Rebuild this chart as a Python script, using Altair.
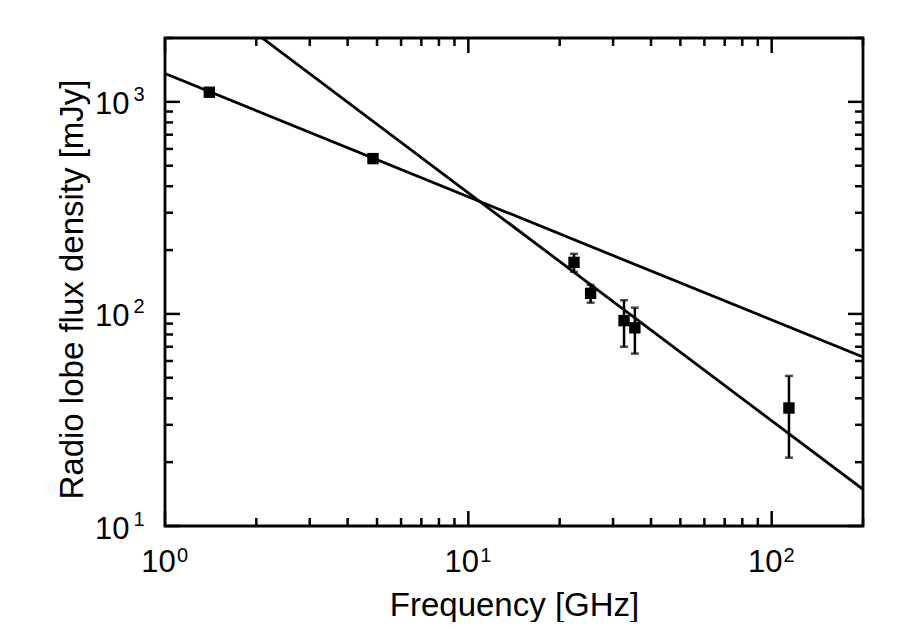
import altair as alt
import pandas as pd

# ---- data ----
freq = [1.4, 4.85, 22.3, 25.3, 32.6, 35.4, 114.0]      # GHz
flux = [1110, 540, 175, 125, 93, 86, 36]               # mJy
err = [0, 0, 17, 12, 23, 21, 15]                       # mJy (+/-)

fit1_freq = [1.0, 200.0]
fit1_flux = [1360, 62.6]
fit2_freq = [2.074, 200.0]
fit2_flux = [2018, 14.9]

x_major = [1, 10, 100]
x_minor = [2, 3, 4, 5, 6, 7, 8, 9, 20, 30, 40, 50, 60, 70, 80, 90, 200]
y_major = [10, 100, 1000]
y_minor = [20, 30, 40, 50, 60, 70, 80, 90, 200, 300, 400, 500, 600, 700, 800, 900, 2000]
x_base_label = "10"
x_exp = ["0", "1", "2"]
y_base_label = "10"
y_exp = ["1", "2", "3"]

FONT = "Liberation Sans"
FS = 31
FS_TITLE = 33
FS_EXP = 20
W, H = 698, 488
MAJ, MIN = 15, 8


def exp_expr(values, labels):
    expr = "''"
    for v, l in reversed(list(zip(values, labels))):
        expr = f"datum.value == {v} ? '{l}' : ({expr})"
    return expr


pts = pd.DataFrame({"freq": freq, "flux": flux, "err": err})
pts["lo"] = pts["flux"] - pts["err"]
pts["hi"] = pts["flux"] + pts["err"]
ebar = pts[pts["err"] > 0]

fit = pd.concat([
    pd.DataFrame({"freq": fit1_freq, "flux": fit1_flux, "fit": "a"}),
    pd.DataFrame({"freq": fit2_freq, "flux": fit2_flux, "fit": "b"}),
])

xs = alt.Scale(type="log", domain=[1, 200], nice=False)
ys = alt.Scale(type="log", domain=[10, 2000], nice=False)

common = dict(grid=False, domain=False, ticks=False, tickSize=0, labelFlush=False,
              labelFont=FONT, titleFont=FONT, labelColor="black", titleColor="black")

x_base_axis = alt.Axis(orient="bottom", values=x_major, labelExpr=f"'{x_base_label}'",
                       labelFontSize=FS, labelPadding=21, labelOffset=-7, labelBaseline="top",
                       title="Frequency [GHz]", titleFontSize=FS_TITLE, titleFontWeight="normal",
                       titleY=89, titleBaseline="alphabetic", **common)
x_exp_axis = alt.Axis(orient="bottom", values=x_major, labelExpr=exp_expr(x_major, x_exp),
                      labelFontSize=FS_EXP, labelPadding=19, labelOffset=17,
                      labelBaseline="top", title=None, **common)
y_base_axis = alt.Axis(orient="left", values=y_major, labelExpr=f"'{y_base_label}'",
                       labelFontSize=FS, labelPadding=36, labelOffset=3, labelBaseline="middle",
                       title="Radio lobe flux density [mJy]", titleFontSize=FS_TITLE,
                       titleFontWeight="normal", titleX=-83, titleY=251,
                       titleBaseline="alphabetic", **common)
y_exp_axis = alt.Axis(orient="left", values=y_major, labelExpr=exp_expr(y_major, y_exp),
                      labelFontSize=FS_EXP, labelPadding=21, labelOffset=-7,
                      labelBaseline="middle", title=None, **common)

line_style = dict(color="black", strokeWidth=2.8, clip=True)

fit_a = alt.Chart(fit[fit["fit"] == "a"]).mark_line(**line_style).encode(
    x=alt.X("freq:Q", scale=xs, axis=x_base_axis),
    y=alt.Y("flux:Q", scale=ys, axis=y_base_axis))
fit_b = alt.Chart(fit[fit["fit"] == "b"]).mark_line(**line_style).encode(
    x=alt.X("freq:Q", scale=xs, axis=x_exp_axis),
    y=alt.Y("flux:Q", scale=ys, axis=y_exp_axis))

XQ = lambda f="freq": alt.X(f"{f}:Q", scale=xs, axis=None)
YQ = lambda f="flux": alt.Y(f"{f}:Q", scale=ys, axis=None)

bars = alt.Chart(ebar).mark_rule(color="black", strokeWidth=2.5).encode(
    x=XQ(), y=YQ("lo"), y2="hi:Q")
cap_lo = alt.Chart(ebar).mark_tick(color="black", orient="horizontal", size=8, thickness=2.5).encode(
    x=XQ(), y=YQ("lo"))
cap_hi = alt.Chart(ebar).mark_tick(color="black", orient="horizontal", size=8, thickness=2.5).encode(
    x=XQ(), y=YQ("hi"))
squares = alt.Chart(pts).mark_square(color="black", size=130, opacity=1).encode(
    x=XQ(), y=YQ())

# inward ticks on all four sides
xmaj = pd.DataFrame({"v": x_major})
xmin = pd.DataFrame({"v": x_minor})
ymaj = pd.DataFrame({"v": y_major})
ymin = pd.DataFrame({"v": y_minor})
tick = dict(color="black", strokeWidth=2.5)
tick_layers = []
for df, L in ((xmaj, MAJ), (xmin, MIN)):
    xv = alt.X("v:Q", scale=xs, axis=None)
    tick_layers.append(alt.Chart(df).mark_rule(**tick).encode(
        x=xv, y=alt.value(H), y2=alt.value(H - L)))
    tick_layers.append(alt.Chart(df).mark_rule(**tick).encode(
        x=xv, y=alt.value(0), y2=alt.value(L)))
for df, L in ((ymaj, MAJ), (ymin, MIN)):
    yv = alt.Y("v:Q", scale=ys, axis=None)
    tick_layers.append(alt.Chart(df).mark_rule(**tick).encode(
        y=yv, x=alt.value(0), x2=alt.value(L)))
    tick_layers.append(alt.Chart(df).mark_rule(**tick).encode(
        y=yv, x=alt.value(W), x2=alt.value(W - L)))

chart = alt.layer(fit_a, fit_b, *tick_layers, bars, cap_lo, cap_hi, squares).resolve_axis(
    x="independent", y="independent"
).properties(
    width=W, height=H,
    autosize=alt.AutoSizeParams(type="none"),
    padding={"left": 157, "top": 30, "right": 29, "bottom": 96},
    background="white",
).configure_view(stroke="black", strokeWidth=2.8)

chart.save("out.html", embed_options={"renderer": "svg", "actions": False})
